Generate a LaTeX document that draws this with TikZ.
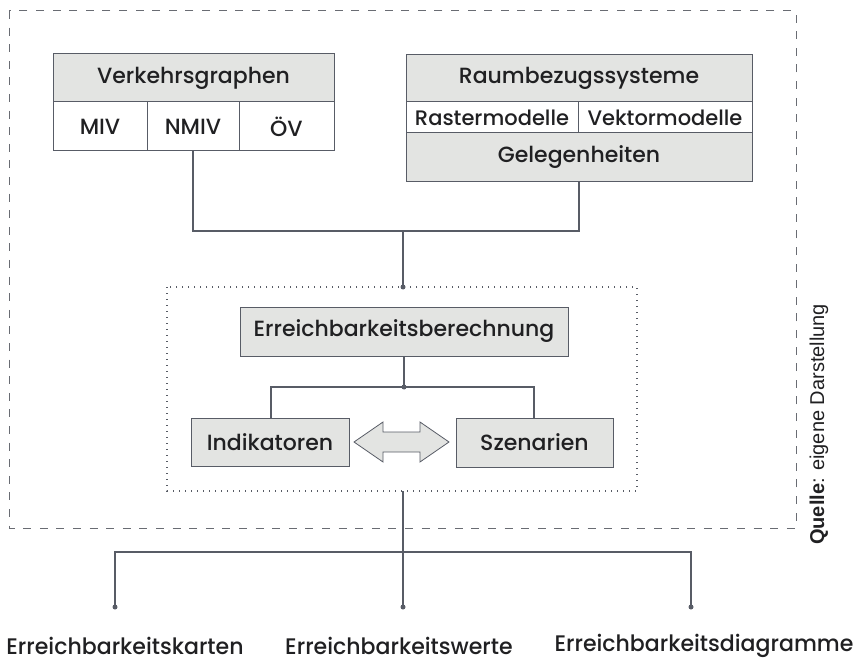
\documentclass[tikz,border=0pt]{standalone}
\usepackage{fontspec}
\setmainfont{Poppins Medium}
\newfontfamily\condfont[FakeStretch=0.98]{Poppins Medium}
\newfontfamily\quellefont{Liberation Sans}

\definecolor{boxfill}{RGB}{227,228,226}
\definecolor{edge}{RGB}{88,92,102}
\definecolor{ink}{RGB}{32,32,34}
\definecolor{frame}{RGB}{105,108,115}

\tikzset{
  cell/.style={draw=edge, line width=1pt, inner sep=0pt, text=ink,
    font=\fontsize{22}{25}\selectfont},
  grey/.style={cell, fill=boxfill},
  white/.style={cell, fill=white},
  smallcell/.style={white, font=\fontsize{21}{24}\selectfont},
  link/.style={draw=edge, line width=1.3pt},
  joint/.style={fill=edge, circle, inner sep=0pt, minimum size=5pt},
  outlabel/.style={text=ink, font=\condfont\fontsize{22.5}{25}\selectfont, inner sep=0pt},
}

\begin{document}
\begin{tikzpicture}[x=1pt, y=-1pt]
\useasboundingbox (0,0) rectangle (857,663);

% outer dashed frame and inner dotted frame
\draw[frame, line width=1pt, dash pattern=on 8pt off 8.6pt] (9,11) rectangle (796,528);
\draw[edge, line width=1.4pt, dash pattern=on 1.3pt off 4.7pt] (167,287) rectangle (637,491);

% Verkehrsgraphen table
\node[grey, minimum width=281pt, minimum height=48pt] (vg) at (193.5,78) {Verkehrsgraphen};
\node[white, minimum width=94pt, minimum height=49pt] (miv) at (100,126.5) {MIV};
\node[white, minimum width=92pt, minimum height=49pt] (nmiv) at (193,126.5) {NMIV};
\node[white, minimum width=95pt, minimum height=49pt] (oev) at (286.5,126.5) {ÖV};

% Raumbezugssysteme table
\node[grey, minimum width=346pt, minimum height=47pt] (rb) at (579,78.5) {Raumbezugssysteme};
\node[smallcell, minimum width=172pt, minimum height=31pt] (raster) at (492,117.5) {Rastermodelle};
\node[smallcell, minimum width=174pt, minimum height=31pt] (vektor) at (665,117.5) {Vektormodelle};
\node[grey, minimum width=346pt, minimum height=49pt] (gel) at (579,157.5) {Gelegenheiten};

% calculation block
\node[grey, minimum width=328pt, minimum height=49pt] (eb) at (404,331.5) {Erreichbarkeitsberechnung};
\node[grey, minimum width=158pt, minimum height=48pt] (ind) at (270,442) {Indikatoren};
\node[grey, minimum width=157pt, minimum height=49pt] (szen) at (534.5,442.5) {Szenarien};

% double arrow between indicators and scenarios
\draw[edge, fill=boxfill, line width=0.8pt]
  (354,442) -- (383,422) -- (383,432) -- (420,432) -- (420,422) -- (449,442)
  -- (420,462) -- (420,452) -- (383,452) -- (383,462) -- cycle;

% connectors in the upper part
\coordinate (jtop) at (403,231);
\coordinate (jin) at (403,287);
\draw[link] (nmiv.south) |- (jtop) -| (gel.south);
\draw[link] (jtop) -- (jin);
\node[joint] at (jin) {};

\coordinate (jeb) at (404,387);
\draw[link] (eb.south) -- (jeb);
\draw[link] (ind.north -| 271,0) |- (jeb) -| (szen.north -| 534,0);
\node[joint] at (jeb) {};

% output branches
\coordinate (jout) at (403,491);
\coordinate (jbar) at (403,552);
\coordinate (pa) at (115,607);
\coordinate (pb) at (403,607);
\coordinate (pc) at (691,607);
\draw[link] (jout) -- (pb);
\draw[link] (pa) |- (jbar) -| (pc);
\foreach \p in {pa,pb,pc} \node[joint] at (\p) {};

\node[outlabel] (la) at (125,646) {Erreichbarkeitskarten};
\node[outlabel] (lb) at (399,646) {Erreichbarkeitswerte};
\node[outlabel] (lc) at (704,646) {Erreichbarkeitsdiagramme};

% source note
\node[rotate=90, text=ink, inner sep=0pt, anchor=west,
  font=\quellefont\fontsize{20}{23}\selectfont] (src) at (819,545)
  {\textbf{Quelle}: eigene Darstellung};
\end{tikzpicture}
\end{document}
